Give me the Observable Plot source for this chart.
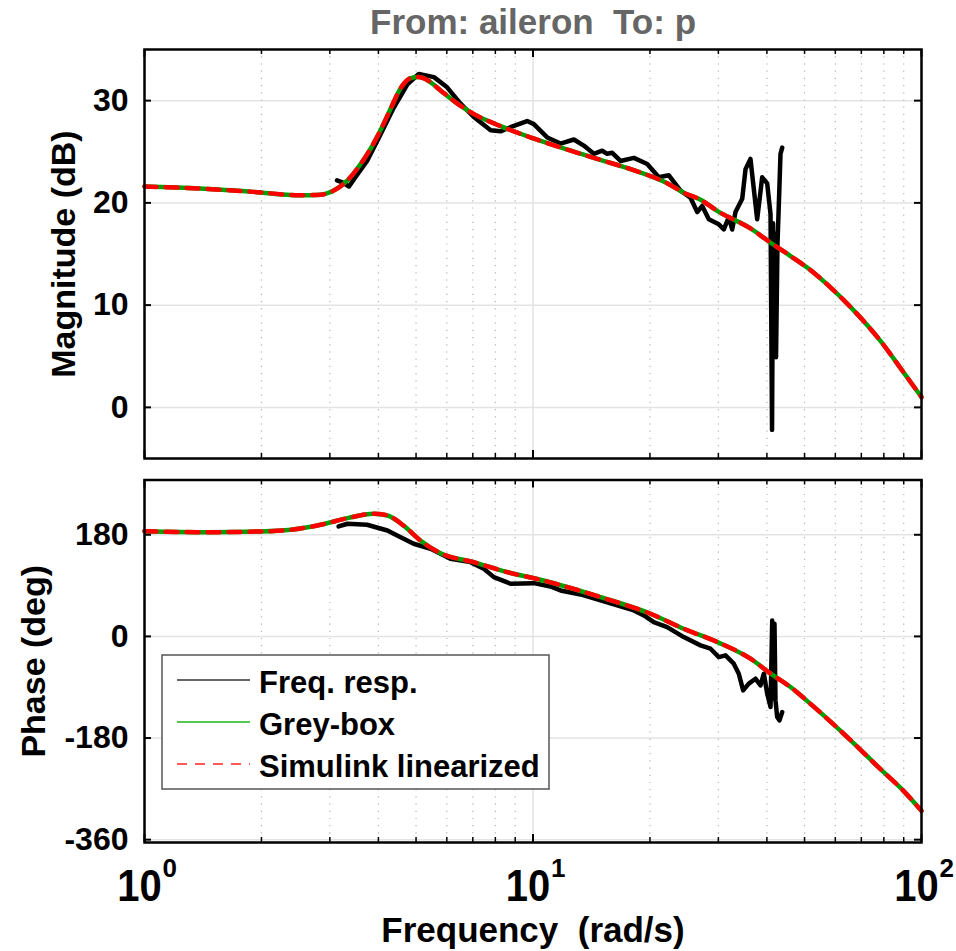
<!DOCTYPE html>
<html><head><meta charset="utf-8">
<script src="https://cdn.jsdelivr.net/npm/d3@7"></script>
<script src="https://cdn.jsdelivr.net/npm/@observablehq/plot@0.6"></script>
<style>
body{margin:0;background:#fff;}
#wrap{position:relative;width:956px;height:951px;overflow:hidden;font-family:"Liberation Sans",Arial,sans-serif;}
#wrap > svg{position:absolute;left:0;}
</style></head><body><div id="wrap"></div>
<script>
// ---------- data ----------
const titleText = "From: aileron\u00a0 To: p";
const xLabel = "Frequency\u00a0 (rad/s)";
const magLabel = "Magnitude (dB)";
const phaseLabel = "Phase (deg)";
const seriesNames = ["Freq. resp.", "Grey-box", "Simulink linearized"];

// Grey-box / Simulink model magnitude (they coincide)
const modelMagF  = [1, 1.39, 1.87, 2.52, 2.84, 3.07, 3.33, 3.60, 3.82, 4.05, 4.30, 4.56, 4.84, 5.07, 5.35, 5.78, 6.39, 7.03, 8.25, 10.03, 12.27, 14.92, 18.15, 22.2, 24.4, 27.0, 29.85, 36.3, 40.9, 46.0, 52.7, 56.9, 65.7, 78.4, 90, 100];
const modelMagDb = [21.6, 21.4, 21.1, 20.75, 20.8, 21.2, 22.2, 23.8, 25.3, 27.1, 29.2, 31.2, 32.2, 32.3, 32.0, 31.0, 29.7, 28.7, 27.5, 26.3, 25.2, 24.2, 23.2, 21.9, 21.0, 20.3, 19.2, 17.5, 16.1, 14.8, 13.2, 12.1, 9.8, 6.5, 3.4, 1.0];

// Model phase
const modelPhF   = [1, 1.45, 1.99, 2.38, 2.84, 3.33, 3.89, 4.22, 4.64, 5.13, 5.78, 7.03, 8.58, 10.45, 14.92, 20.07, 24.4, 29.85, 36.3, 40.9, 46.0, 52.7, 65.7, 78.4, 90, 100];
const modelPhDeg = [186.4, 184.6, 185.9, 188.9, 197.7, 209.4, 217.2, 214.2, 196.5, 169.9, 147.4, 131.5, 113.8, 100.3, 69.6, 40.1, 13.6, -10.1, -39.5, -66.0, -89.7, -124, -184, -235, -274, -309];

// Measured frequency response magnitude
const respMagF  = [3.13, 3.23, 3.36, 3.49, 3.74, 4.05, 4.38, 4.75, 5.08, 5.56, 6.01, 6.51, 7.04, 7.78, 8.25, 8.75, 9.66, 10.05, 10.88, 11.77, 12.74, 13.51, 14.34, 15.07, 15.52, 15.99, 16.80, 18.18, 19.68, 21.08, 22.37, 23.97, 25.43, 26.47, 27.26, 28.35, 30.08, 30.99, 31.92, 32.56, 33.20, 34.56, 35.24, 36.29, 37.76, 38.90, 40.07, 40.87, 41.24, 41.48, 41.73, 41.97, 42.22, 42.59, 42.85, 43.36, 43.80];
const respMagDb = [22.2, 22.0, 21.6, 22.5, 24.1, 26.7, 29.3, 31.6, 32.6, 32.3, 31.3, 29.7, 28.4, 27.1, 27.0, 27.4, 28.0, 27.7, 26.4, 25.8, 26.2, 25.6, 24.8, 25.1, 24.8, 24.9, 24.1, 24.4, 23.8, 22.5, 22.7, 21.2, 20.5, 19.1, 19.7, 18.4, 17.9, 17.4, 18.6, 17.4, 19.1, 20.4, 23.3, 24.3, 18.4, 22.5, 21.9, 18.9, -2.2, 18.0, 4.9, 17.0, 4.9, 16.0, 18.9, 24.8, 25.4];

// Measured frequency response phase
const respPhF   = [3.16, 3.33, 3.74, 4.22, 4.47, 4.93, 5.45, 6.13, 6.90, 7.47, 7.93, 8.75, 10.05, 11.09, 11.77, 13.26, 14.92, 16.47, 18.18, 19.29, 20.46, 22.15, 24.44, 26.99, 28.64, 30.08, 31.30, 32.87, 33.86, 34.75, 35.93, 37.38, 38.51, 39.28, 40.07, 40.87, 41.28, 41.6, 41.84, 42.09, 42.51, 43.10, 43.80];
const respPhDeg = [194.7, 199.5, 197.7, 187.6, 178.8, 164.1, 155.2, 137.5, 131.5, 119.8, 105.0, 93.3, 94.3, 88.5, 81.4, 74.3, 63.7, 54.9, 46.0, 37.2, 25.3, 16.5, -1.2, -15.9, -21.8, -36.6, -33.6, -48.3, -66.1, -95.6, -83.7, -74.9, -86.7, -66.1, -101.4, -125.1, 28.3, -110, 22.5, -113.3, -142.8, -148.7, -134.0];

// ticks
const magTicks = [0, 10, 20, 30];
const phaseTicks = [-360, -180, 0, 180];
const decadeTicks = [1, 10, 100];
const decadeExp = ["0", "1", "2"];
const minorTicks = [2, 3, 4, 5, 6, 7, 8, 9, 20, 30, 40, 50, 60, 70, 80, 90];
const magDomain = [-5, 35];
const phaseDomain = [-365, 277];

// ---------- helpers ----------
const zip = (fs, vs) => fs.map((f, i) => ({f, v: vs[i]}));
const magModel = zip(modelMagF, modelMagDb);
const phModel = zip(modelPhF, modelPhDeg);
const magResp = zip(respMagF, respMagDb);
const phResp = zip(respPhF, respPhDeg);
const xTickRows = decadeTicks.map((f, i) => ({f, e: decadeExp[i]}));

const W = 956;
const ML = 144, MR = 35;
const FW = W - ML - MR;
const FONT = "Liberation Sans, Arial, sans-serif";
const GREEN = "#00a000", RED = "#ff0000";

function panel({height, mt, mb, domain, ticks, data, resp, label, labelDx, extra = []}) {
  const FH = height - mt - mb;
  return Plot.plot({
    width: W, height,
    marginLeft: ML, marginRight: MR, marginTop: mt, marginBottom: mb,
    style: {fontFamily: FONT, background: "transparent", overflow: "visible"},
    x: {type: "log", domain: [1, 100], axis: null},
    y: {domain, axis: null},
    marks: [
      Plot.ruleY(ticks, {y: d => d, stroke: "#e3e3e3", strokeWidth: 1.5}),
      Plot.ruleX([10], {x: d => d, stroke: "#e3e3e3", strokeWidth: 1.5}),
      Plot.ruleX(minorTicks, {x: d => d, stroke: "#b4b4b4", strokeWidth: 1.2, strokeDasharray: "1.2,6"}),
      Plot.line(resp, {x: "f", y: "v", stroke: "#000", strokeWidth: 4.5, strokeLinejoin: "round"}),
      Plot.line(data, {x: "f", y: "v", stroke: GREEN, strokeWidth: 4.5, curve: "monotone-x"}),
      Plot.line(data, {x: "f", y: "v", stroke: RED, strokeWidth: 4.5, strokeDasharray: "12,9", curve: "monotone-x"}),
      // inside ticks
      Plot.tickX(minorTicks, {x: d => d, insetTop: FH - 5, stroke: "#000", strokeWidth: 1.5}),
      Plot.tickX(minorTicks, {x: d => d, insetBottom: FH - 5, stroke: "#000", strokeWidth: 1.5}),
      Plot.tickX(decadeTicks, {x: d => d, insetTop: FH - 8, stroke: "#000", strokeWidth: 2}),
      Plot.tickX(decadeTicks, {x: d => d, insetBottom: FH - 8, stroke: "#000", strokeWidth: 2}),
      Plot.tickY(ticks, {y: d => d, insetRight: FW - 7, stroke: "#000", strokeWidth: 2}),
      Plot.tickY(ticks, {y: d => d, insetLeft: FW - 7, stroke: "#000", strokeWidth: 2}),
      Plot.frame({stroke: "#000", strokeWidth: 2.5}),
      // y tick labels
      Plot.text(ticks, {y: d => d, text: d => String(d), frameAnchor: "left", dx: -16, textAnchor: "end",
        fontSize: 32, fontWeight: "bold", fill: "#000"}),
      // y label
      Plot.text([label], {frameAnchor: "left", dx: labelDx, rotate: -90, textAnchor: "middle",
        fontSize: 34, fontWeight: "bold", fill: "#000"}),
      ...extra
    ]
  });
}

// stretch text vertically about its baseline (reference glyphs are taller)
function stretchText(svg, matcher, baselineY, s) {
  const groups = new Set();
  svg.querySelectorAll("text").forEach(t => { if (matcher(t.textContent)) groups.add(t.parentNode); });
  groups.forEach(g => {
    const old = g.getAttribute("transform") || "";
    g.setAttribute("transform", `translate(0,${baselineY}) scale(1,${s}) translate(0,${-baselineY}) ${old}`);
  });
}

const wrap = document.getElementById("wrap");

const H1 = 470;
const p1 = panel({
  height: H1, mt: 49, mb: 12, domain: magDomain, ticks: magTicks,
  data: magModel, resp: magResp, label: magLabel, labelDx: -80,
  extra: [
    Plot.text([titleText], {frameAnchor: "top", dy: -16, lineAnchor: "bottom", fontSize: 35,
      fontWeight: "bold", fill: "#666"})
  ]
});
p1.style.top = "0px";
wrap.appendChild(p1);

const H2 = 951 - H1;
const MB2 = H1 + H2 - 842;
const p2 = panel({
  height: H2, mt: 9.5, mb: MB2, domain: phaseDomain, ticks: phaseTicks,
  data: phModel, resp: phResp, label: phaseLabel, labelDx: -110,
  extra: [
    Plot.text(xTickRows, {x: "f", text: () => "10", frameAnchor: "bottom", dx: -5, dy: 58,
      lineAnchor: "bottom", fontSize: 40, fontWeight: "bold", fill: "#000"}),
    Plot.text(xTickRows, {x: "f", text: "e", frameAnchor: "bottom", dx: 18, dy: 34, textAnchor: "start",
      lineAnchor: "bottom", fontSize: 26, fontWeight: "bold", fill: "#000"}),
    Plot.text([xLabel], {frameAnchor: "bottom", dy: 99, lineAnchor: "bottom", fontSize: 35,
      fontWeight: "bold", fill: "#000"})
  ]
});
p2.style.top = H1 + "px";
wrap.appendChild(p2);
stretchText(p2, t => t === "10", 842 - H1 + 58, 1.1);

// ---------- legend ----------
const lg = d3.select(wrap).append("svg").attr("width", W).attr("height", 951)
  .style("position", "absolute").style("top", "0px").style("left", "0px");
const lx = 162, ly = 655, lw = 387, lh = 134;
lg.append("rect").attr("x", lx).attr("y", ly).attr("width", lw).attr("height", lh)
  .attr("fill", "#fff").attr("stroke", "#555").attr("stroke-width", 1.5);
const legendStyles = [
  {stroke: "#333", width: 1.5, dash: null},
  {stroke: "#55c755", width: 2, dash: null},
  {stroke: "#ff5a5a", width: 2, dash: "10,8"}
];
seriesNames.forEach((name, i) => {
  const cy = 680 + i * 42;
  const s = legendStyles[i];
  lg.append("line").attr("x1", 177).attr("x2", 250).attr("y1", cy).attr("y2", cy)
    .attr("stroke", s.stroke).attr("stroke-width", s.width).attr("stroke-dasharray", s.dash);
  lg.append("text").attr("x", 259).attr("y", cy + 13).text(name)
    .attr("font-family", FONT).attr("font-weight", "bold").attr("font-size", 31).attr("fill", "#000");
});
</script></body></html>
